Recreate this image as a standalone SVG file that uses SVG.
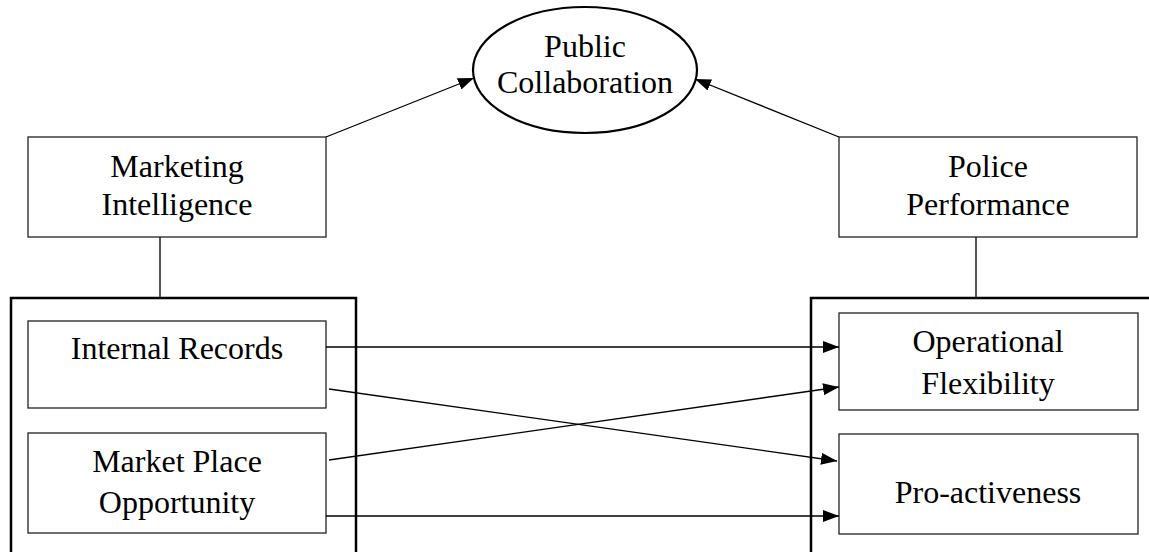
<svg xmlns="http://www.w3.org/2000/svg" width="1149" height="552" viewBox="0 0 1149 552">
<style>
text{font-family:"Liberation Serif","Times New Roman",serif;font-size:32px;fill:#000;text-anchor:middle}
.box{fill:#fff;stroke:#222;stroke-width:1.3}
.outer{fill:none;stroke:#000;stroke-width:2.5}
.ln{fill:none;stroke:#000;stroke-width:1.3}
.arr{fill:none;stroke:#000;stroke-width:1.3;marker-end:url(#ah)}
</style>
<defs>
<marker id="ah" markerWidth="16" markerHeight="12" refX="16" refY="6" orient="auto" markerUnits="userSpaceOnUse">
<path d="M0,0 L16,6 L0,12 Z" fill="#000"/>
</marker>
</defs>
<rect width="1149" height="552" fill="#fff"/>
<g id="left-group"><rect class="outer" x="11" y="298" width="345" height="300"/></g>
<g id="right-group"><rect class="outer" x="811" y="298" width="400" height="300"/></g>
<g id="public-collaboration">
<ellipse cx="585" cy="70" rx="112" ry="63" fill="#fff" stroke="#000" stroke-width="2.2"/>
<text x="585" y="57">Public</text>
<text x="585" y="93">Collaboration</text>
</g>
<g id="marketing-intelligence">
<rect class="box" x="28" y="137" width="298" height="100"/>
<text x="177" y="177">Marketing</text>
<text x="177" y="215">Intelligence</text>
</g>
<g id="police-performance">
<rect class="box" x="839" y="137" width="298" height="100"/>
<text x="988" y="177">Police</text>
<text x="988" y="215">Performance</text>
</g>
<g id="internal-records">
<rect class="box" x="28" y="321" width="298" height="87"/>
<text x="177" y="359">Internal Records</text>
</g>
<g id="market-place-opportunity">
<rect class="box" x="28" y="433" width="298" height="100"/>
<text x="177" y="472">Market Place</text>
<text x="177" y="513">Opportunity</text>
</g>
<g id="operational-flexibility">
<rect class="box" x="839" y="313" width="299" height="97"/>
<text x="988" y="352">Operational</text>
<text x="988" y="394">Flexibility</text>
</g>
<g id="pro-activeness">
<rect class="box" x="839" y="434" width="299" height="100"/>
<text x="988" y="503">Pro-activeness</text>
</g>
<g id="connectors">
<line class="ln" x1="160" y1="237" x2="160" y2="298"/>
<line class="ln" x1="976" y1="237" x2="976" y2="298"/>
<line class="arr" x1="326" y1="137" x2="474" y2="78"/>
<line class="arr" x1="839" y1="137" x2="695" y2="79"/>
<line class="arr" x1="326" y1="347" x2="839" y2="347"/>
<line class="arr" x1="329" y1="389" x2="837" y2="461"/>
<line class="arr" x1="329" y1="460" x2="839" y2="387"/>
<line class="arr" x1="326" y1="516" x2="839" y2="516"/>
</g>
</svg>
